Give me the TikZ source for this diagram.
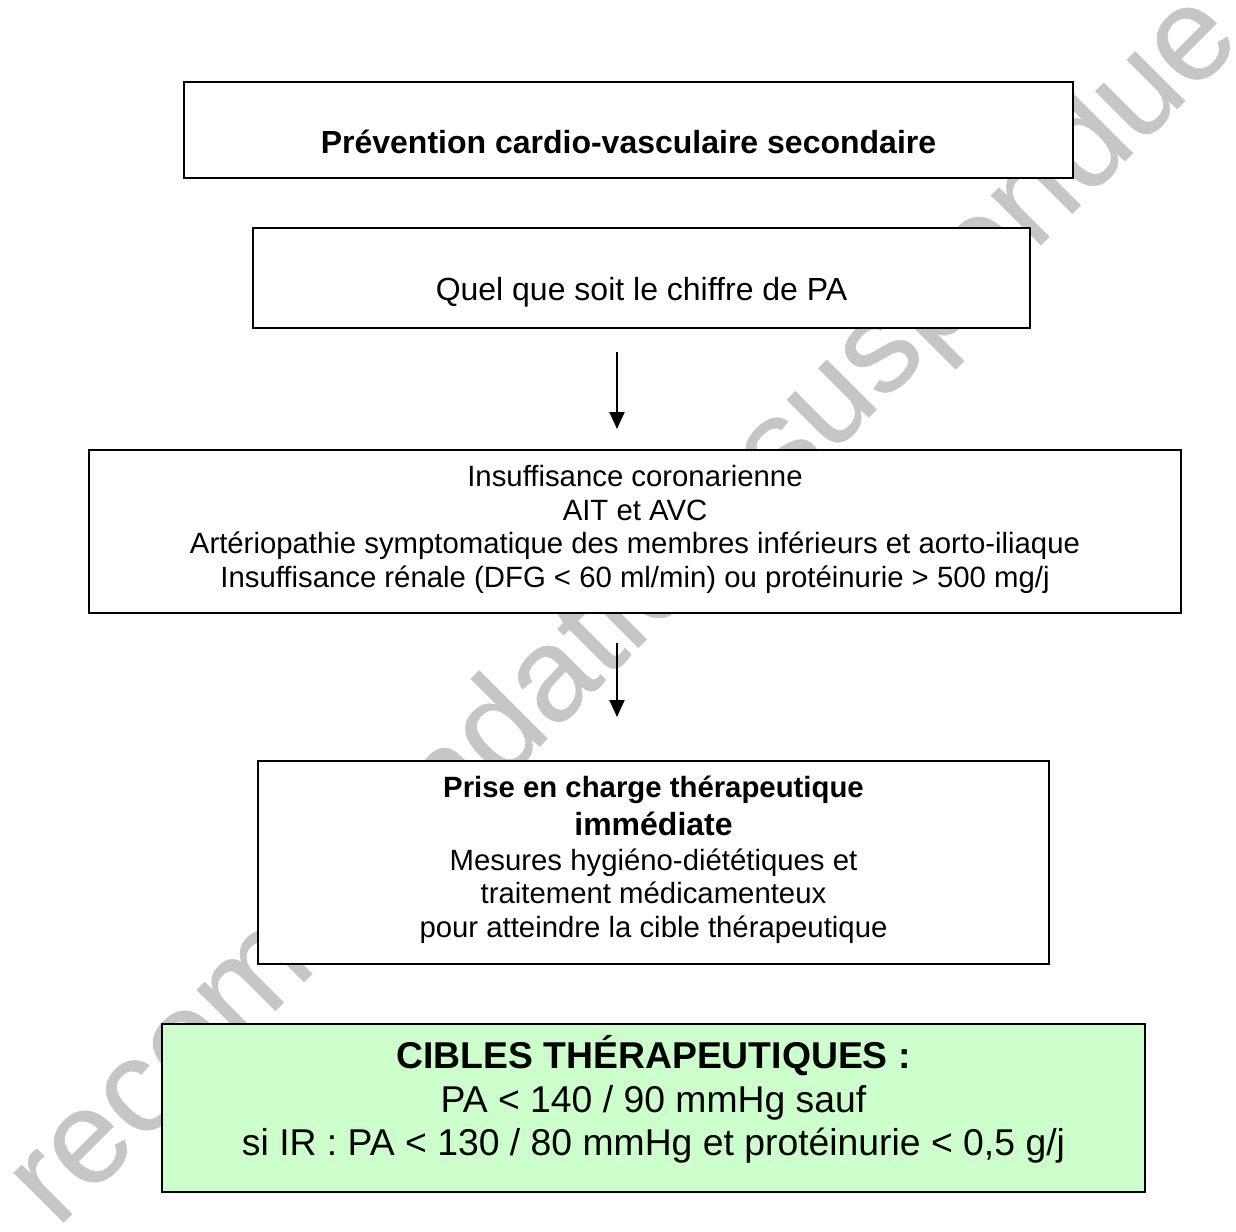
\documentclass[tikz,border=0pt]{standalone}
\usepackage{fontspec}
\setmainfont{Liberation Sans}
\newfontfamily\wmfont[FakeBold=0.4]{Liberation Sans}
\usetikzlibrary{arrows.meta}
\definecolor{boxgreen}{HTML}{CCFFCC}
\definecolor{wmgray}{HTML}{C6C6C6}

\begin{document}
\begin{tikzpicture}[x=1pt,y=-1pt,
  frame/.style={draw=black, line width=2.2pt, fill=white, inner sep=0pt},
  txt/.style={anchor=base, inner sep=0pt},
  f11/.style={font=\fontsize{29.33}{33.7}\selectfont},
  f11b/.style={font=\fontsize{29.33}{33.7}\selectfont\bfseries},
  f12/.style={font=\fontsize{32}{36.8}\selectfont},
  f12b/.style={font=\fontsize{32}{36.8}\selectfont\bfseries},
  f14/.style={font=\fontsize{37.33}{42.9}\selectfont},
  f14b/.style={font=\fontsize{37.33}{42.9}\selectfont\bfseries},
  flow/.style={line width=2pt, -{Triangle[length=17pt,width=15pt]}}]

\useasboundingbox (0,0) rectangle (1236,1231);
\fill[white] (0,0) rectangle (1236,1231);

% diagonal watermark behind the boxes
\node[rotate=45, anchor=base west, inner sep=0pt, text=wmgray,
      font=\wmfont\fontsize{133}{138}\selectfont] (wm) at (57,1229)
  {recommandation suspendue};

% boxes
\node[frame, minimum width=889pt, minimum height=96pt]  (b1) at (628.5,130) {};
\node[frame, minimum width=777pt, minimum height=100pt] (b2) at (641.5,278) {};
\node[frame, minimum width=1092pt, minimum height=163pt] (b3) at (635,531.5) {};
\node[frame, minimum width=791pt, minimum height=203pt] (b4) at (653.5,862.5) {};
\node[frame, fill=boxgreen, line width=2.6pt, minimum width=983pt, minimum height=168pt] (b5) at (653.5,1108) {};

% box texts
\node[txt, f12b] (t1) at (628.5,153) {Prévention cardio-vasculaire secondaire};
\node[txt, f12] (t2) at (641.5,300) {Quel que soit le chiffre de PA};

\node[txt, f11] (t3a) at (635,486.5) {Insuffisance coronarienne};
\node[txt, f11] (t3b) at (635,520.2) {AIT et AVC};
\node[txt, f11] (t3c) at (635,553.9) {Artériopathie symptomatique des membres inférieurs et aorto-iliaque};
\node[txt, f11] (t3d) at (635,587.6) {Insuffisance rénale (DFG < 60 ml/min) ou protéinurie > 500 mg/j};

\node[txt, f11b] (t4a) at (653.5,797) {Prise en charge thérapeutique};
\node[txt, f12b] (t4b) at (653.5,835) {immédiate};
\node[txt, f11] (t4c) at (653.5,870) {Mesures hygiéno-diététiques et};
\node[txt, f11] (t4d) at (653.5,903.7) {traitement médicamenteux};
\node[txt, f11] (t4e) at (653.5,937.4) {pour atteindre la cible thérapeutique};

\node[txt, f14b] (t5a) at (653.5,1068) {CIBLES THÉRAPEUTIQUES :};
\node[txt, f14] (t5b) at (653.5,1112) {PA < 140 / 90 mmHg sauf};
\node[txt, f14] (t5c) at (653.5,1155) {si IR : PA < 130 / 80 mmHg et protéinurie < 0,5 g/j};

% arrows between the stages
\coordinate (a1s) at (617,352);
\coordinate (a1e) at (617,429);
\coordinate (a2s) at (617,643);
\coordinate (a2e) at (617,717);
\draw[flow] (a1s) -- (a1e);
\draw[flow] (a2s) -- (a2e);
\end{tikzpicture}
\end{document}
